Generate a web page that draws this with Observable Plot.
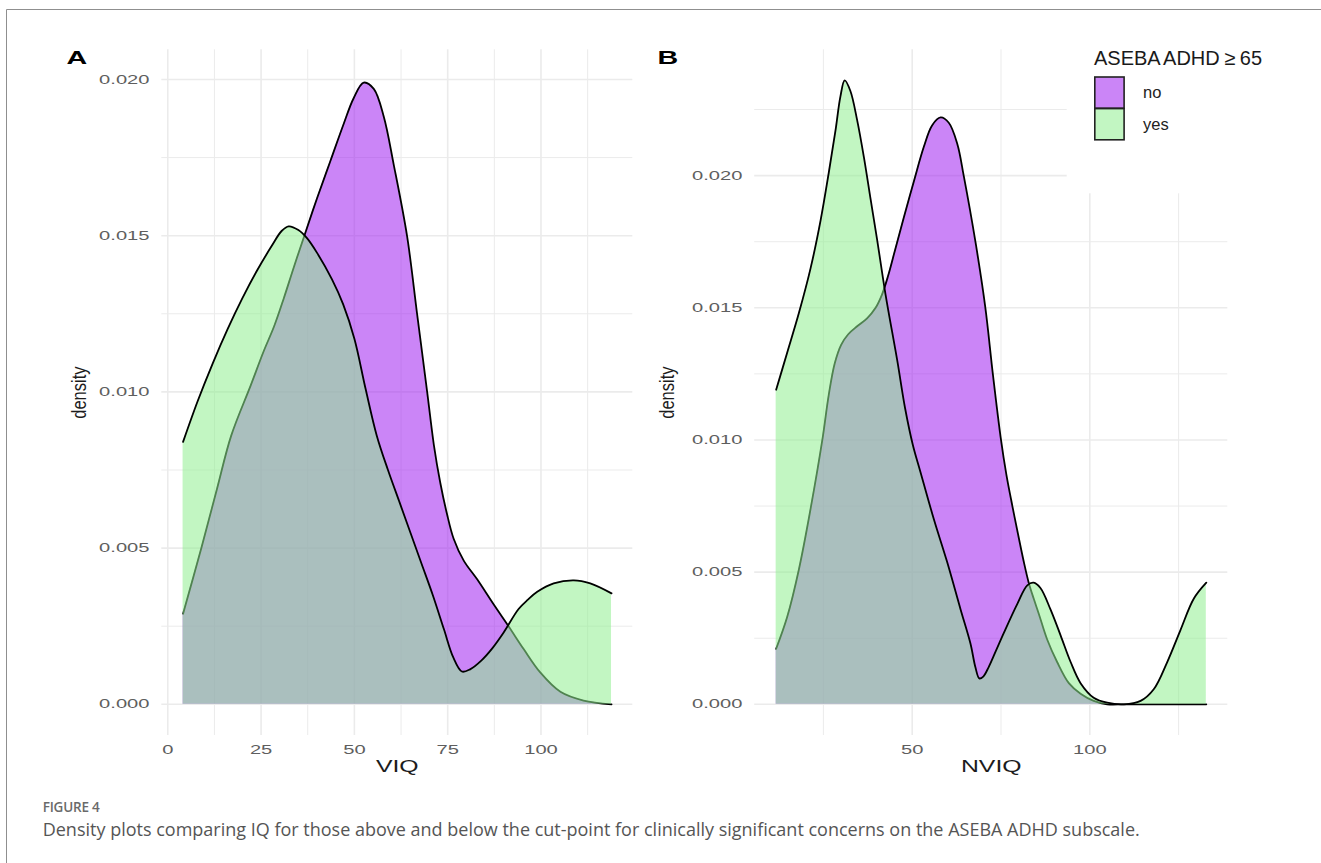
<!DOCTYPE html>
<html>
<head>
<meta charset="utf-8">
<script src="https://cdn.jsdelivr.net/npm/d3@7"></script>
<script src="https://cdn.jsdelivr.net/npm/@observablehq/plot@0.6"></script>
<style>
html, body { margin: 0; padding: 0; background: #fff; }
#root { position: relative; width: 1321px; height: 863px; overflow: hidden; background: #fff; }
.panel { position: absolute; top: 0; }
.panel text { font-family: "Liberation Sans", Arial, sans-serif; }
#overlay { position: absolute; left: 0; top: 0; }
</style>
</head>
<body>
<div id="root"></div>
<script>
// ---------- data ----------
const groups = ["no", "yes"];
const fillColors = ["#A020F0", "#90EE90"];
const legendTitle = "ASEBA ADHD \u2265 65";
const figureLabel = "FIGURE 4";
const captionText = "Density plots comparing IQ for those above and below the cut-point for clinically significant concerns on the ASEBA ADHD subscale.";

const viqTicks = [0, 25, 50, 75, 100];
const viqMinor = [12.5, 37.5, 62.5, 87.5, 112.5];
const nviqTicks = [50, 100];
const nviqMinor = [25, 75, 125];
const densTicks = [0, 0.005, 0.010, 0.015, 0.020];
const densMinorA = [0.0025, 0.0075, 0.0125, 0.0175];
const densMinorB = [0.0025, 0.0075, 0.0125, 0.0175, 0.0225];

// Panel A (VIQ)
const viqNoX = [4.1, 9.0, 13.2, 17.0, 22.2, 25.7, 28.5, 31.1, 33.8, 36.6, 40.0, 43.6, 47.2, 49.8, 52.5, 55.2, 57.9, 60.5, 64.1, 66.8, 69.5, 71.3, 73.0, 74.8, 76.6, 79.3, 82.9, 87.3, 91.3, 95.4, 99.8, 105.2, 111.4, 118.9];
const viqNoY = [0.0029, 0.0050, 0.0069, 0.0086, 0.0102, 0.0113, 0.0121, 0.0130, 0.0140, 0.0150, 0.0162, 0.0174, 0.0186, 0.0194, 0.0199, 0.0197, 0.0188, 0.0173, 0.0150, 0.0125, 0.0100, 0.0083, 0.0071, 0.0061, 0.0053, 0.0046, 0.0040, 0.0032, 0.0025, 0.00176, 0.00102, 0.0004, 0.00012, 0.0];
const viqYesX = [4.1, 8, 12, 16, 20, 24, 28, 30.5, 32.4, 35, 37.3, 40, 44, 47, 50, 53, 56, 59, 62, 65, 68, 71, 74, 76.5, 78.8, 81, 84, 87, 90, 94, 96.5, 99, 103.4, 108.8, 113.2, 118.9];
const viqYesY = [0.0084, 0.0097, 0.0109, 0.0120, 0.0130, 0.0139, 0.0147, 0.01515, 0.0153, 0.01518, 0.01492, 0.01445, 0.0136, 0.0128, 0.0117, 0.0101, 0.0086, 0.0075, 0.0065, 0.0055, 0.0045, 0.0035, 0.0024, 0.0015, 0.00105, 0.00112, 0.0014, 0.0018, 0.0023, 0.00305, 0.00335, 0.0036, 0.00387, 0.00397, 0.00387, 0.00355];

// Panel B (NVIQ)
const nviqNoX = [11.7, 14.8, 18.1, 21.4, 24.7, 26.5, 28.2, 30.0, 32.0, 34.5, 37.3, 39.7, 41.5, 43.2, 45.2, 47.6, 50.5, 53.3, 55.6, 58.0, 60.3, 62.7, 64.5, 67.8, 70.6, 72.7, 74.9, 76.5, 78.2, 80.0, 81.4, 82.8, 84.2, 85.7, 88.0, 90.8, 94.1, 97.4, 101.1, 104.9, 110, 120, 132.8];
const nviqNoY = [0.0021, 0.0033, 0.0051, 0.0074, 0.0100, 0.0117, 0.0129, 0.0136, 0.0140, 0.0143, 0.0146, 0.0150, 0.0155, 0.0162, 0.0172, 0.0184, 0.0198, 0.0211, 0.0219, 0.0222, 0.0220, 0.0212, 0.0200, 0.0175, 0.0150, 0.0125, 0.0101, 0.0087, 0.0075, 0.0063, 0.0054, 0.0046, 0.0040, 0.0034, 0.00245, 0.0016, 0.0008, 0.0004, 0.00013, 0.0, 0.0, 0.0, 0.0];
const nviqYesX = [11.7, 14.8, 18.1, 21.4, 24.2, 26.5, 28.4, 29.8, 31.0, 32.6, 34.5, 36.4, 38.3, 40.1, 42.5, 45.8, 48.0, 50.2, 52.3, 56.1, 59.8, 63.6, 66.4, 67.8, 68.9, 70.0, 71.5, 73.5, 75.8, 79.6, 82.4, 84.2, 86.1, 88.9, 91.8, 94.6, 97.4, 101.1, 104.9, 109.6, 114.3, 118.0, 121.8, 125.5, 129.3, 132.8];
const nviqYesY = [0.0119, 0.0133, 0.0148, 0.0165, 0.0183, 0.0201, 0.0217, 0.0230, 0.0236, 0.0232, 0.0221, 0.0207, 0.0191, 0.0176, 0.0155, 0.0130, 0.0112, 0.0098, 0.0088, 0.0070, 0.0054, 0.0036, 0.0023, 0.0014, 0.00098, 0.00105, 0.0014, 0.0020, 0.0027, 0.0038, 0.0045, 0.0046, 0.0044, 0.0036, 0.0026, 0.0016, 0.0008, 0.00025, 0.00006, 0.0, 0.00013, 0.00057, 0.0016, 0.0028, 0.0040, 0.0046];

// ---------- helpers ----------
const zip = (xs, ys) => xs.map((x, i) => ({x, y: ys[i]}));
const fillAlpha = 0.55;
const gridColor = "#ebebeb";
const curve = "catmull-rom";

function stretch(svg) {
  svg.querySelectorAll("text").forEach(t => {
    const tr = t.getAttribute("transform") || "";
    const x = parseFloat(t.getAttribute("x")) || 0;
    const y = parseFloat(t.getAttribute("y")) || 0;
    const s = /rotate/.test(tr) ? "scale(1,1.25)" : "scale(1.55,1)";
    t.setAttribute("transform", `${tr} translate(${x},${y}) ${s} translate(${-x},${-y})`);
  });
}

function panel({width, marginLeft, marginRight, xDomain, yDomain, xTicks, xMinor, yMinor, no, yes, letter, letterDx, xTitle, yTitleDx}) {
  const svg = Plot.plot({
    width, height: 790,
    marginLeft, marginRight, marginTop: 49.3, marginBottom: 55,
    style: {fontFamily: "Liberation Sans, Arial, sans-serif", fontSize: "13px", color: "#5e5e5e", background: "transparent", overflow: "visible"},
    x: {domain: xDomain, ticks: xTicks, tickFormat: d => String(d), tickSize: 0, tickPadding: 9.4, label: null},
    y: {domain: yDomain, ticks: densTicks, tickFormat: d3.format(".3f"), tickSize: 0, tickPadding: 12.3, label: null},
    marks: [
      Plot.ruleX(xMinor, {stroke: gridColor, strokeWidth: 1}),
      Plot.ruleY(yMinor, {stroke: gridColor, strokeWidth: 1}),
      Plot.ruleX(xTicks, {stroke: gridColor, strokeWidth: 1.6}),
      Plot.ruleY(densTicks, {stroke: gridColor, strokeWidth: 1.6}),
      Plot.areaY(no, {x: "x", y: "y", curve, fill: fillColors[0], fillOpacity: fillAlpha}),
      Plot.line(no, {x: "x", y: "y", curve, stroke: "#000", strokeWidth: 1.8}),
      Plot.areaY(yes, {x: "x", y: "y", curve, fill: fillColors[1], fillOpacity: fillAlpha}),
      Plot.line(yes, {x: "x", y: "y", curve, stroke: "#000", strokeWidth: 1.8}),
      Plot.text([letter], {text: d => d, frameAnchor: "top-left", dx: letterDx, dy: 14, lineAnchor: "bottom", textAnchor: "start", fontSize: 18.5, fontWeight: "bold", fill: "#000"}),
      Plot.text([xTitle], {text: d => d, frameAnchor: "bottom", dy: 31.7, lineAnchor: "middle", textAnchor: "middle", fontSize: 16, fill: "#1c1c1c"}),
      Plot.text(["density"], {text: d => d, frameAnchor: "left", rotate: -90, dx: yTitleDx, lineAnchor: "middle", textAnchor: "middle", fontSize: 16.5, fill: "#1c1c1c"})
    ]
  });
  stretch(svg);
  svg.classList.add("panel");
  return svg;
}

const root = document.getElementById("root");

const svgA = panel({
  width: 640, marginLeft: 161.3, marginRight: 7.7,
  xDomain: [-1.6, 124.6], yDomain: [-0.000998, 0.02095],
  xTicks: viqTicks, xMinor: viqMinor, yMinor: densMinorA,
  no: zip(viqNoX, viqNoY), yes: zip(viqYesX, viqYesY),
  letter: "A", letterDx: -95.3, xTitle: "VIQ", yTitleDx: -82.5
});
svgA.style.left = "0px";
root.appendChild(svgA);

const svgB = panel({
  width: 681, marginLeft: 114.2, marginRight: 93.7,
  xDomain: [5.66, 138.85], yDomain: [-0.00118, 0.02476],
  xTicks: nviqTicks, xMinor: nviqMinor, yMinor: densMinorB,
  no: zip(nviqNoX, nviqNoY), yes: zip(nviqYesX, nviqYesY),
  letter: "B", letterDx: -97.2, xTitle: "NVIQ", yTitleDx: -87
});
svgB.style.left = "640px";
root.appendChild(svgB);

// ---------- overlay: frame, legend, caption ----------
const NS = "http://www.w3.org/2000/svg";
const ov = document.createElementNS(NS, "svg");
ov.setAttribute("id", "overlay");
ov.setAttribute("width", 1321);
ov.setAttribute("height", 863);
function el(tag, attrs, text) {
  const e = document.createElementNS(NS, tag);
  for (const k in attrs) e.setAttribute(k, attrs[k]);
  if (text != null) e.textContent = text;
  ov.appendChild(e);
  return e;
}
el("path", {d: "M6.5,900 V9.5 H1330", fill: "none", stroke: "#8f8f8f", "stroke-width": 1});
// legend background
el("rect", {x: 1066.7, y: 44, width: 170, height: 149.3, fill: "#fff"});
el("text", {x: 1094, y: 65, "font-family": "Liberation Sans, Arial, sans-serif", "font-size": 20, "word-spacing": "-1", fill: "#1a1a1a"}, legendTitle);
groups.forEach((g, i) => {
  const top = 77 + i * 31.6;
  el("rect", {x: 1094.8, y: top, width: 29.3, height: 31.2, fill: "#fff", stroke: "none"});
  el("rect", {x: 1094.8, y: top, width: 29.3, height: 31.2, fill: fillColors[i], "fill-opacity": fillAlpha, stroke: "#222", "stroke-width": 1.6});
  el("text", {x: 1143, y: top + 21.3, "font-family": "Liberation Sans, Arial, sans-serif", "font-size": 16.5, fill: "#222"}, g);
});
// caption
el("text", {x: 42.7, y: 812, "font-family": "Open Sans, sans-serif", "font-weight": 600, "font-size": 13.5, "letter-spacing": "-0.2", fill: "#6a6a6a"}, figureLabel);
el("text", {x: 42.7, y: 836, "font-family": "Open Sans, sans-serif", "font-size": 18, fill: "#555"}, captionText);
root.appendChild(ov);
</script>
</body>
</html>
